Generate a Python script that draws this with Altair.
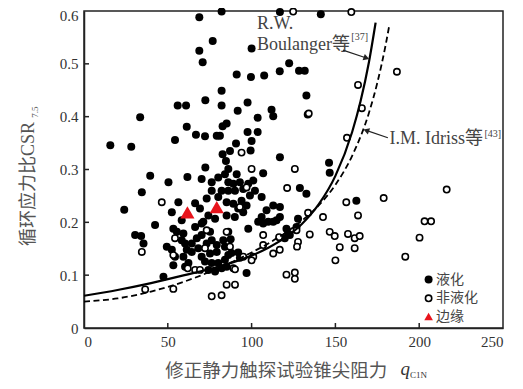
import altair as alt
import pandas as pd

# ---- data ----
# 液化 (filled circles)
liq_q = [15.7, 28.2, 33.5, 54.3, 55.9, 60.9, 61.3, 66.8, 68.8, 68.8, 70.8, 72.4, 72.2, 76.8, 79.2, 81.1,
         72.4, 82.1, 82.1, 82.1, 82.7, 85.1, 91.1, 91.7, 90.7, 82.7, 84.7, 87.1, 86.1, 100.0, 99.6, 97.6,
         103.6, 97.6, 103.6, 100.0, 99.4, 116.9, 141.3, 107.5, 116.8, 122.4, 128.3, 131.7, 132.7, 111.9,
         112.9, 133.5, 116.9, 146.2, 146.6,
         39.5, 61.7, 50.4, 70.2, 34.5, 56.3, 52.4, 66.3, 42.4, 58.3, 76.2, 80.1, 84.1, 86.1, 76.2, 82.1,
         86.1, 73.2, 80.1, 85.1, 69.2, 74.2, 71.2, 78.2, 85.1, 24.0, 30.5, 34.1, 35.5, 53.3, 55.4, 49.4,
         52.4, 54.3, 53.3, 59.3, 60.3, 61.3, 59.3, 47.4, 97.0, 98.0,
         58.3, 60.3, 62.3, 64.3, 64.3, 67.3, 68.2, 66.3, 70.2, 70.2, 75.2, 73.2, 76.2, 79.2, 83.1, 86.1,
         84.1, 79.2, 75.2, 70.2, 72.2, 76.2, 80.1, 84.1, 86.1, 74.2, 78.2, 82.1, 85.1,
         106.9, 91.1, 89.1, 93.0, 90.1, 95.0, 98.0, 101.0, 102.0, 99.0, 106.0, 94.0, 89.1, 97.0, 92.0,
         95.0, 90.0, 108.9, 106.0, 112.9, 116.9, 114.9, 109.9, 106.9, 128.8, 132.7, 127.7,
         162.5, 116.9, 103.9, 112.9, 120.8, 122.8, 119.8, 121.8, 126.8, 88.0, 92.0, 93.0, 87.5]
liq_csr = [0.346, 0.343, 0.399, 0.356, 0.421, 0.421, 0.381, 0.366, 0.588, 0.525, 0.503, 0.431, 0.363, 0.543,
           0.364, 0.364, 0.304, 0.599, 0.449, 0.421, 0.382, 0.387, 0.480, 0.411, 0.349, 0.329, 0.316, 0.335,
           0.301, 0.529, 0.475, 0.427, 0.398, 0.371, 0.371, 0.354, 0.336, 0.598, 0.594, 0.478, 0.486, 0.501,
           0.487, 0.487, 0.440, 0.413, 0.401, 0.404, 0.323, 0.313, 0.294,
           0.288, 0.286, 0.276, 0.282, 0.257, 0.238, 0.219, 0.236, 0.195, 0.204, 0.276, 0.285, 0.291, 0.276,
           0.260, 0.260, 0.260, 0.245, 0.248, 0.238, 0.226, 0.213, 0.201, 0.207, 0.213, 0.224, 0.176, 0.174,
           0.160, 0.188, 0.182, 0.154, 0.148, 0.135, 0.119, 0.179, 0.160, 0.148, 0.135, 0.097, 0.104, 0.188,
           0.166, 0.116, 0.123, 0.144, 0.160, 0.170, 0.151, 0.191, 0.198, 0.176, 0.182, 0.160, 0.166, 0.157,
           0.166, 0.182, 0.154, 0.144, 0.141, 0.135, 0.126, 0.123, 0.123, 0.129, 0.138, 0.110, 0.107, 0.113,
           0.116,
           0.293, 0.291, 0.273, 0.276, 0.260, 0.263, 0.273, 0.279, 0.260, 0.251, 0.248, 0.241, 0.235, 0.232,
           0.226, 0.219, 0.210, 0.223, 0.210, 0.232, 0.229, 0.204, 0.201, 0.198, 0.265, 0.254, 0.207,
           0.241, 0.210, 0.201, 0.201, 0.188, 0.176, 0.170, 0.179, 0.191, 0.142, 0.143, 0.133, 0.168]

# 非液化 (open circles)
non_q = [94.0, 100.0, 124.8, 159.5, 186.7, 163.5, 134.1, 165.8, 156.9, 125.8, 46.4, 34.5, 54.3, 53.3,
         61.9, 66.3, 36.5, 53.3, 76.2, 82.1, 85.1, 90.1, 89.1, 73.2, 85.1, 87.1, 72.2, 69.2, 97.0, 93.0,
         121.2, 133.7, 142.6, 156.5, 178.8, 216.4, 163.5, 203.2, 207.1, 200.2, 191.7, 146.6, 149.6, 157.5,
         161.5, 164.5, 152.6, 161.5, 150.0, 134.7, 127.7, 127.1, 116.8, 112.9, 106.9, 106.9, 101.0, 95.0,
         120.8, 125.8, 125.8, 116.4, 100.0, 90.1, 126.8]
non_csr = [0.332, 0.301, 0.599, 0.598, 0.485, 0.460, 0.406, 0.416, 0.360, 0.301, 0.238, 0.144, 0.170, 0.138,
           0.113, 0.110, 0.073, 0.074, 0.060, 0.062, 0.082, 0.082, 0.113, 0.185, 0.182, 0.154, 0.151, 0.110,
           0.266, 0.229, 0.265, 0.218, 0.210, 0.238, 0.246, 0.262, 0.213, 0.202, 0.202, 0.171, 0.135, 0.182,
           0.174, 0.178, 0.170, 0.174, 0.153, 0.151, 0.128, 0.177, 0.163, 0.154, 0.148, 0.141, 0.176, 0.157,
           0.135, 0.135, 0.101, 0.105, 0.093, 0.172, 0.128, 0.111, 0.185]

# 边缘 (red triangles)
edge_q = [61.7, 79.2]
edge_csr = [0.219, 0.229]

# R.W. Boulanger curve (solid)
boul_q = [0, 20, 40, 60, 80, 100, 110, 120, 130, 140, 150, 160, 165, 170, 174]
boul_csr = [0.061, 0.072, 0.085, 0.100, 0.116, 0.137, 0.152, 0.171, 0.197, 0.234, 0.288, 0.371, 0.429, 0.503, 0.578]
# I.M. Idriss curve (dashed)
idr_q = [0, 20, 40, 60, 80, 100, 110, 120, 130, 140, 150, 160, 170, 175, 180, 182]
idr_csr = [0.050, 0.056, 0.069, 0.088, 0.113, 0.143, 0.160, 0.180, 0.203, 0.232, 0.271, 0.326, 0.407, 0.464, 0.536, 0.570]

x_ticks = [0, 50, 100, 150, 200, 250]
y_ticks = [0, 0.1, 0.2, 0.3, 0.4, 0.5, 0.6]

# ---- chart ----
W, H = 419, 317
SERIF = "Liberation Serif, Noto Sans CJK SC"
CJK = "Noto Sans CJK SC"
TXT = "#444444"

liq = pd.DataFrame({"q": liq_q, "csr": liq_csr})
non = pd.DataFrame({"q": non_q, "csr": non_csr})
edge = pd.DataFrame({"q": edge_q, "csr": edge_csr})
boul = pd.DataFrame({"q": boul_q, "csr": boul_csr})
idr = pd.DataFrame({"q": idr_q, "csr": idr_csr})

xs = alt.Scale(domain=[0, 250], nice=False, zero=False)
ys = alt.Scale(domain=[0, 0.6], nice=False, zero=False)
xaxis = alt.Axis(values=x_ticks, title=None, ticks=False, grid=False, labelPadding=6,
                 labelFont="Liberation Serif", labelFontSize=15, labelColor="#333",
                 domainColor="#222", domainWidth=1.5)
yaxis = alt.Axis(values=y_ticks, title=None, ticks=False, grid=False, labelPadding=6,
                 labelFont="Liberation Serif", labelFontSize=15, labelColor="#333",
                 domainColor="#222", domainWidth=1.5,
                 labelOffset={"condition": {"test": "datum.value >= 0.59", "value": 4}, "value": 0},
                 labelExpr="datum.value == 0 ? '0' : format(datum.value, '.1f')")

X = alt.X("q:Q", scale=xs, axis=xaxis)
Y = alt.Y("csr:Q", scale=ys, axis=yaxis)

filled = alt.Chart(liq).mark_point(shape="circle", filled=True, color="black", size=64, opacity=1).encode(x=X, y=Y)
opened = alt.Chart(non).mark_point(shape="circle", filled=True, fill="white", stroke="black",
                                   strokeWidth=1.6, size=40, opacity=1).encode(x=X, y=Y)
tri = alt.Chart(edge).mark_point(shape="triangle-up", filled=True, color="#e8141c", size=200, opacity=1).encode(x=X, y=Y)
solid = alt.Chart(boul).mark_line(color="black", strokeWidth=2.2, interpolate="monotone").encode(x=X, y=Y)
dashed = alt.Chart(idr).mark_line(color="black", strokeWidth=1.8, strokeDash=[6, 3.5],
                                  interpolate="monotone").encode(x=X, y=Y)

# inside ticks
xt = alt.Chart(pd.DataFrame({"q": x_ticks[1:-1]})).mark_rule(color="#222", strokeWidth=1.5).encode(
    x=X, y=alt.value(H), y2=alt.value(H - 5))
yt = alt.Chart(pd.DataFrame({"csr": y_ticks[1:-1]})).mark_rule(color="#222", strokeWidth=1.5).encode(
    y=Y, x=alt.value(0), x2=alt.value(5))

# annotations
ann = pd.DataFrame({
    "q": [103.2, 103.2, 159.5, 182.3, 238.9],
    "csr": [0.576, 0.536, 0.550, 0.357, 0.367],
    "label": ["R.W.", "Boulanger等", "[37]", "I.M. Idriss等", "[43]"],
    "fs": [18, 18, 10, 18, 10],
})
ann_text = alt.Chart(ann).mark_text(align="left", baseline="middle", font=SERIF, color=TXT).encode(
    x=X, y=Y, text="label:N", size=alt.Size("fs:Q", scale=None, legend=None))

arrows = pd.DataFrame({"q": [154.5, 181.3], "csr": [0.526, 0.360],
                       "q2": [168.5, 168.4], "csr2": [0.511, 0.374],
                       "shape": ["triangle-right", "triangle-left"]})
arrow_lines = alt.Chart(arrows).mark_rule(color="#222", strokeWidth=1.2).encode(
    x=X, y=Y, x2="q2:Q", y2="csr2:Q")
arrow_heads = alt.Chart(arrows).transform_calculate(q="datum.q2", csr="datum.csr2").mark_point(
    filled=True, color="#222", size=45, angle=20, opacity=1).encode(
    x=X, y=Y, shape=alt.Shape("shape:N", scale=None, legend=None))

# legend (inside the plot, bottom right)
lg_x, lg_tx = 344.6, 352
ly1, ly2, ly3 = 268.6, 287.3, 305.6
lg1 = alt.Chart().mark_point(shape="circle", filled=True, color="black", size=64, opacity=1).encode(
    x=alt.value(lg_x), y=alt.value(ly1))
lg2 = alt.Chart().mark_point(shape="circle", filled=True, fill="white", stroke="black", strokeWidth=1.6,
                             size=40, opacity=1).encode(x=alt.value(lg_x), y=alt.value(ly2))
lg3 = alt.Chart().mark_point(shape="triangle-up", filled=True, color="#e8141c", size=75, opacity=1).encode(
    x=alt.value(lg_x), y=alt.value(ly3))
lt1 = alt.Chart().mark_text(align="left", baseline="middle", font=CJK, fontSize=14, color=TXT).encode(
    x=alt.value(lg_tx), y=alt.value(ly1), text=alt.value("液化"))
lt2 = alt.Chart().mark_text(align="left", baseline="middle", font=CJK, fontSize=14, color=TXT).encode(
    x=alt.value(lg_tx), y=alt.value(ly2), text=alt.value("非液化"))
lt3 = alt.Chart().mark_text(align="left", baseline="middle", font=CJK, fontSize=14, color=TXT).encode(
    x=alt.value(lg_tx), y=alt.value(ly3), text=alt.value("边缘"))

# axis titles
xt1 = alt.Chart().mark_text(align="left", baseline="middle", font=CJK, fontSize=18.5, color="#555").encode(
    x=alt.value(81.3), y=alt.value(360), text=alt.value("修正静力触探试验锥尖阻力"))
xt2 = alt.Chart().mark_text(align="left", baseline="middle", font="Liberation Serif", fontSize=19,
                            fontStyle="italic", color="#333").encode(
    x=alt.value(316.5), y=alt.value(358), text=alt.value("q"))
xt3 = alt.Chart().mark_text(align="left", baseline="middle", font="Liberation Serif", fontSize=9,
                            color="#333").encode(
    x=alt.value(326), y=alt.value(363.5), text=alt.value("C1N"))
yt1 = alt.Chart().mark_text(align="center", baseline="middle", font=SERIF, fontSize=18, angle=270,
                            color="#555").encode(
    x=alt.value(-55.4), y=alt.value(173), text=alt.value("循环应力比CSR"))
yt2 = alt.Chart().mark_text(align="center", baseline="middle", font="Liberation Serif", fontSize=9,
                            angle=270, color="#555").encode(
    x=alt.value(-49.5), y=alt.value(101), text=alt.value("7.5"))

chart = alt.layer(
    filled, opened, solid, dashed, tri, xt, yt, ann_text, arrow_lines, arrow_heads,
    lg1, lg2, lg3, lt1, lt2, lt3, xt1, xt2, xt3, yt1, yt2
).properties(
    width=W, height=H,
    autosize=alt.AutoSizeParams(type="none"),
    padding={"left": 76, "top": 3, "right": 10, "bottom": 58},
    background="white",
).configure_view(stroke="#222", strokeWidth=1.5)

chart.save("out.html", embed_options={"renderer": "svg", "actions": False})
